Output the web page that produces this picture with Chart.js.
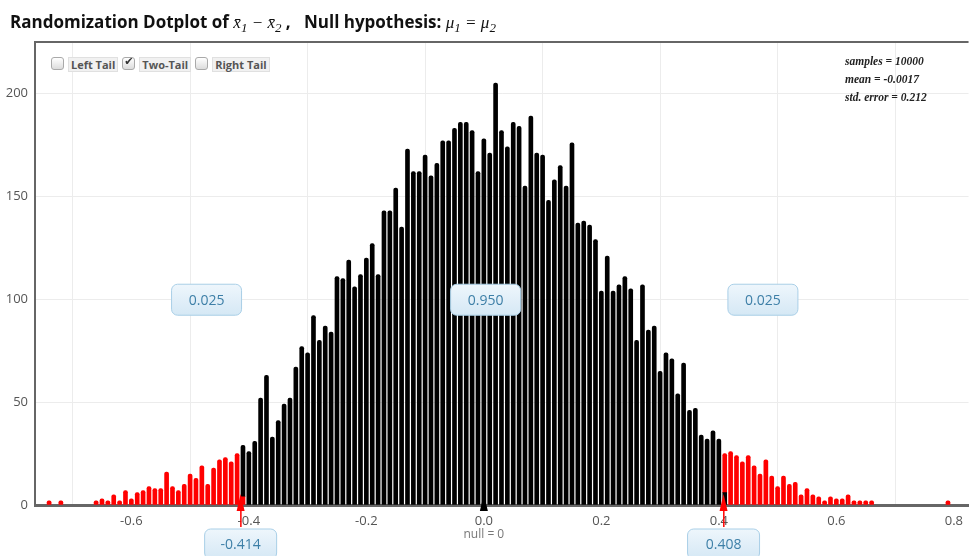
<!DOCTYPE html>
<html>
<head>
<meta charset="utf-8">
<script src="https://cdn.jsdelivr.net/npm/chart.js@4.4.1/dist/chart.umd.min.js"></script>
<style>
  body { margin: 0; background: #fff; }
  #wrap { position: relative; width: 971px; height: 556px; overflow: hidden; }
  #c { position: absolute; left: 0; top: 0; }
  #title { position: absolute; left: 10px; top: 10px; font: bold 17px "Open Sans", sans-serif; color: #111; white-space: pre; }
  #title .m { font: italic 17px "Liberation Serif", serif; font-weight: normal; }
  #title sub { font-size: 13px; vertical-align: -4px; line-height: 0; }
  #tails { position: absolute; left: 51px; top: 55px; display: flex; align-items: center; font: bold 11px "Open Sans", sans-serif; color: #555; }
  .box { width: 11px; height: 11px; border: 1px solid #a9a9a9; border-radius: 3px; background: linear-gradient(#fff, #dcdcdc); position: relative; }
  .box span { position: absolute; left: 1px; top: -3px; font: 11px "DejaVu Sans", sans-serif; color: #333; }
  .lab { background: #f1f1f1; border: 1px solid #e0e0e0; padding: 0 2px; margin: 2px 4px 0 4px; line-height: 13px; }
  #stats { position: absolute; left: 845px; top: 52px; font: italic bold 11.5px "Liberation Serif", serif; color: #222; line-height: 18px; }
</style>
</head>
<body>
<div id="wrap">
  <canvas id="c" width="971" height="556"></canvas>
  <div id="title">Randomization Dotplot of <span class="m">x̄<sub>1</sub> − x̄<sub>2</sub></span> ,   Null hypothesis: <span class="m">μ<sub>1</sub> = μ<sub>2</sub></span></div>
  <div id="tails">
    <div class="box"></div><div class="lab">Left Tail</div>
    <div class="box"><span>✔</span></div><div class="lab">Two-Tail</div>
    <div class="box"></div><div class="lab">Right Tail</div>
  </div>
  <div id="stats">samples = 10000<br>mean = -0.0017<br>std. error = 0.212</div>
</div>
<script>
// dotplot stacks: difference in means -> number of samples
const diffs = [
  -0.74, -0.72,
  -0.66, -0.65, -0.64, -0.63, -0.62, -0.61, -0.60, -0.59, -0.58, -0.57, -0.56, -0.55, -0.54, -0.53, -0.52, -0.51,
  -0.50, -0.49, -0.48, -0.47, -0.46, -0.45, -0.44, -0.43, -0.42, -0.41,
  -0.40, -0.39, -0.38, -0.37, -0.36, -0.35, -0.34, -0.33, -0.32, -0.31,
  -0.30, -0.29, -0.28, -0.27, -0.26, -0.25, -0.24, -0.23, -0.22, -0.21,
  -0.20, -0.19, -0.18, -0.17, -0.16, -0.15, -0.14, -0.13, -0.12, -0.11,
  -0.10, -0.09, -0.08, -0.07, -0.06, -0.05, -0.04, -0.03, -0.02, -0.01,
  0.00, 0.01, 0.02, 0.03, 0.04, 0.05, 0.06, 0.07, 0.08, 0.09,
  0.10, 0.11, 0.12, 0.13, 0.14, 0.15, 0.16, 0.17, 0.18, 0.19,
  0.20, 0.21, 0.22, 0.23, 0.24, 0.25, 0.26, 0.27, 0.28, 0.29,
  0.30, 0.31, 0.32, 0.33, 0.34, 0.35, 0.36, 0.37, 0.38, 0.39,
  0.40, 0.41, 0.42, 0.43, 0.44, 0.45, 0.46, 0.47, 0.48, 0.49,
  0.50, 0.51, 0.52, 0.53, 0.54, 0.55, 0.56, 0.57, 0.58, 0.59,
  0.60, 0.61, 0.62, 0.63, 0.64, 0.65, 0.66,
  0.79
];
const counts = [
  2, 2,
  2, 3, 2, 5, 2, 7, 3, 6, 7, 9, 8, 8, 16, 9, 7, 10,
  15, 13, 19, 10, 18, 22, 23, 21, 25, 29,
  26, 31, 52, 63, 33, 41, 49, 52, 67, 77,
  74, 92, 80, 87, 84, 111, 110, 119, 106, 112,
  120, 127, 112, 143, 143, 154, 135, 173, 162, 162,
  170, 160, 166, 177, 177, 183, 186, 186, 182, 162,
  178, 171, 205, 182, 174, 186, 184, 155, 189, 171,
  170, 148, 158, 165, 155, 176, 137, 138, 136, 129,
  104, 121, 104, 107, 111, 105, 80, 107, 85, 87,
  65, 74, 71, 54, 69, 46, 47, 34, 32, 36,
  32, 25, 26, 24, 21, 24, 19, 15, 22, 14,
  9, 14, 10, 11, 5, 8, 5, 4, 2, 4,
  3, 3, 5, 2, 2, 2, 2,
  2
];

// two-tail cut points and how the stacks on them are split
const lowerCut = -0.414;
const upperCut = 0.408;
const lowerSplitBin = -0.41, lowerSplitRed = 4;
const upperSplitBin = 0.41, upperSplitBlack = 6;
const tailShares = ["0.025", "0.950", "0.025"];
const xTicks = [-0.6, -0.4, -0.2, 0, 0.2, 0.4, 0.6, 0.8];

const redLow = [], black = [], redHigh = [];
diffs.forEach((x, i) => {
  const n = counts[i];
  if (x < lowerSplitBin) redLow.push({ x, y: n });
  else if (x === lowerSplitBin) { redLow.push({ x, y: lowerSplitRed }); black.push({ x, y: n - lowerSplitRed }); }
  else if (x < upperSplitBin) black.push({ x, y: n });
  else if (x === upperSplitBin) { black.push({ x, y: upperSplitBlack }); redHigh.push({ x, y: n - upperSplitBlack }); }
  else redHigh.push({ x, y: n });
});

const font = "'Open Sans', sans-serif";
const axisGray = "#666";

function roundBox(ctx, cx, top, w, h, text) {
  const x = cx - w / 2;
  const g = ctx.createLinearGradient(0, top, 0, top + h);
  g.addColorStop(0, "#eef6fc");
  g.addColorStop(1, "#d5e8f5");
  ctx.beginPath();
  ctx.roundRect(x, top, w, h, 6);
  ctx.fillStyle = g;
  ctx.fill();
  ctx.strokeStyle = "#a9cfe7";
  ctx.lineWidth = 1;
  ctx.stroke();
  ctx.fillStyle = "#3d7fa7";
  ctx.font = "14px " + font;
  ctx.textAlign = "center";
  ctx.textBaseline = "middle";
  ctx.fillText(text, cx, top + h / 2 + 1);
}

function marker(ctx, px, base, color) {
  ctx.fillStyle = color;
  ctx.beginPath();
  ctx.moveTo(px, base - 11);
  ctx.lineTo(px - 4, base + 6);
  ctx.lineTo(px + 4, base + 6);
  ctx.closePath();
  ctx.fill();
}

const decorations = {
  id: "decorations",
  afterDraw(chart) {
    const { ctx, chartArea, scales } = chart;
    const xs = scales.x, ys = scales.y;
    ctx.save();
    // top frame line
    ctx.strokeStyle = axisGray;
    ctx.lineWidth = 2;
    ctx.beginPath();
    ctx.moveTo(chartArea.left - 1, chartArea.top);
    ctx.lineTo(chartArea.right, chartArea.top);
    ctx.stroke();

    // share boxes at the 100 level
    const midY = ys.getPixelForValue(100);
    roundBox(ctx, xs.getPixelForValue(-0.472), midY - 15, 70, 31, tailShares[0]);
    roundBox(ctx, xs.getPixelForValue(0.003), midY - 15, 70, 31, tailShares[1]);
    roundBox(ctx, xs.getPixelForValue(0.475), midY - 15, 70, 31, tailShares[2]);

    // cut markers on the axis
    const base = chartArea.bottom;
    const lx = xs.getPixelForValue(lowerCut), ux = xs.getPixelForValue(upperCut), zx = xs.getPixelForValue(0);
    marker(ctx, lx, base, "#ff0000");
    marker(ctx, ux, base, "#ff0000");
    marker(ctx, zx, base, "#000");
    ctx.fillStyle = "#ff0000";
    ctx.fillRect(lx - 0.5, base, 1.5, 22);
    ctx.fillRect(ux - 0.5, base, 1.5, 22);

    ctx.fillStyle = "#777";
    ctx.font = "12px " + font;
    ctx.textAlign = "center";
    ctx.textBaseline = "middle";
    ctx.fillText("null = 0", zx, base + 30);

    roundBox(ctx, lx, base + 24, 72, 30, String(lowerCut));
    roundBox(ctx, ux, base + 24, 72, 30, String(upperCut));
    ctx.restore();
  }
};

const common = { barThickness: 4, borderRadius: 2, borderSkipped: "start" };

new Chart(document.getElementById("c"), {
  type: "bar",
  data: {
    datasets: [
      Object.assign({ label: "lower tail", data: redLow, backgroundColor: "#ff0000" }, common),
      Object.assign({ label: "middle", data: black, backgroundColor: "#000000" }, common),
      Object.assign({ label: "upper tail", data: redHigh, backgroundColor: "#ff0000" }, common)
    ]
  },
  options: {
    responsive: false,
    animation: false,
    layout: { padding: { top: 42, left: 0, right: 0, bottom: 0 } },
    plugins: { legend: { display: false }, tooltip: { enabled: false } },
    scales: {
      x: {
        type: "linear",
        stacked: true,
        offset: false,
        min: -0.764,
        max: 0.825,
        afterBuildTicks: s => { s.ticks = xTicks.map(v => ({ value: v })); },
        afterFit: s => { s.height = 51; },
        grid: { color: "#ececec", drawTicks: false },
        border: { color: axisGray, width: 3 },
        ticks: {
          padding: 8,
          color: "#555",
          font: { family: font, size: 13 },
          callback: v => v.toFixed(1)
        }
      },
      y: {
        stacked: true,
        min: 0,
        max: 225,
        afterFit: s => { s.width = 35; },
        grid: { color: "#ececec", drawTicks: false },
        border: { color: axisGray, width: 2 },
        ticks: {
          stepSize: 50,
          includeBounds: false,
          padding: 7,
          color: "#555",
          font: { family: font, size: 13 }
        }
      }
    }
  },
  plugins: [decorations]
});
</script>
</body>
</html>
